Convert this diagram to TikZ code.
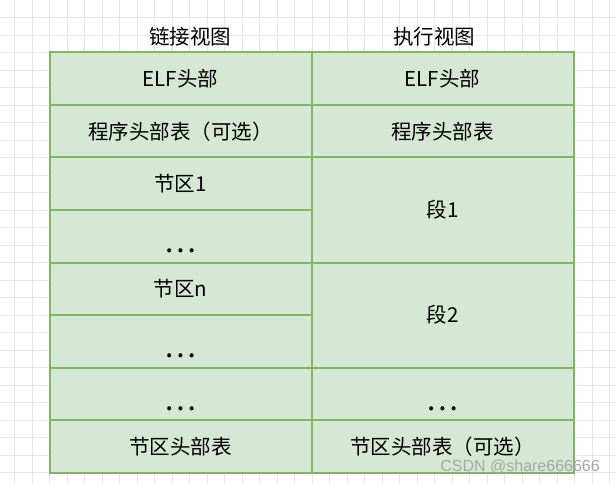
\documentclass[tikz,border=0pt]{standalone}
\usepackage{fontspec}
\setmainfont{Noto Sans CJK SC}
\newfontfamily\wmfont{Liberation Sans}
\definecolor{cellfill}{HTML}{D5E8D4}
\definecolor{cellline}{HTML}{82B366}
\definecolor{gridc}{HTML}{E6E6E6}
\begin{document}
\begin{tikzpicture}[x=1pt,y=-1pt,
  cell/.style={draw=cellline,fill=cellfill,line width=2pt,rectangle,inner sep=0pt,
    minimum width=262pt,font=\fontsize{20.5}{22}\selectfont},
  onerow/.style={cell,minimum height=52.5pt},
  tworow/.style={cell,minimum height=105pt},
  dots/.style={font=\fontsize{30}{30}\selectfont,inner sep=0pt},
  title/.style={font=\fontsize{20.5}{22}\selectfont,inner sep=0pt},
  wm/.style={font=\wmfont\fontsize{16}{18}\selectfont,text=gray!70,inner sep=0pt}]
\useasboundingbox (0,0) rectangle (616,484);
\fill[white] (0,0) rectangle (616,484);
% background grid
\foreach \gx in {14.5,32,...,616} \draw[gridc,line width=0.8pt] (\gx,0) -- (\gx,484);
\foreach \gy in {17.5,35,...,484} \draw[gridc,line width=0.8pt] (0,\gy) -- (616,\gy);
% titles
\node[title] (tl) at (190,37) {链接视图};
\node[title] (tr) at (434,37) {执行视图};
% left column
\node[onerow] (l1) at (180.5,78.75) {ELF头部};
\node[onerow] (l2) at (180.5,131.25) {程序头部表（可选）};
\node[onerow] (l3) at (180.5,183.75) {节区1};
\node[onerow] (l4) at (180.5,236.25) {};
\node[onerow] (l5) at (180.5,288.75) {节区n};
\node[onerow] (l6) at (180.5,341.25) {};
\node[onerow] (l7) at (180.5,393.75) {};
\node[onerow] (l8) at (180.5,446.25) {节区头部表};
% right column
\node[onerow] (r1) at (442.5,78.75) {ELF头部};
\node[onerow] (r2) at (442.5,131.25) {程序头部表};
\node[tworow] (r3) at (442.5,210) {段1};
\node[tworow] (r4) at (442.5,315) {段2};
\node[onerow] (r5) at (442.5,393.75) {};
\node[onerow] (r6) at (442.5,446.25) {节区头部表（可选）};
% ellipses
\node[dots] (d1) at ([yshift=-15pt]l4.center) {…};
\node[dots] (d2) at ([yshift=-15pt]l6.center) {…};
\node[dots] (d3) at ([yshift=-15pt]l7.center) {…};
\node[dots] (d4) at ([yshift=-15pt]r5.center) {…};
% watermark
\node[wm,anchor=east] (w) at (600,467) {CSDN @share666666};
\end{tikzpicture}
\end{document}
